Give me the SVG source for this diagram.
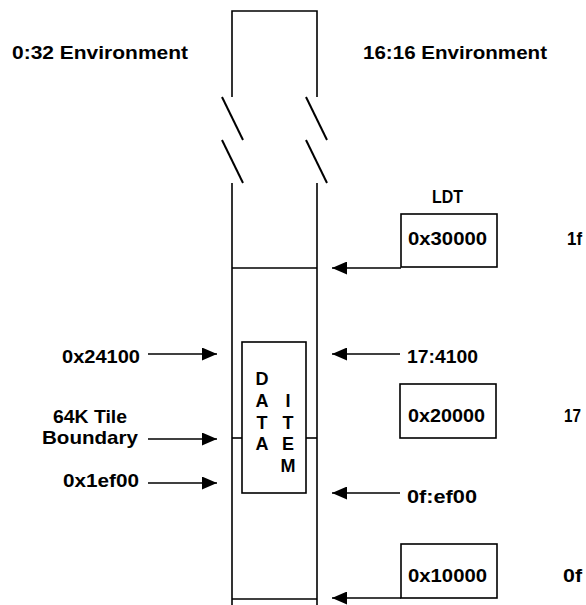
<svg xmlns="http://www.w3.org/2000/svg" width="586" height="605" viewBox="0 0 586 605">
<defs>
<style>
.t{font-family:"Liberation Sans",Arial,sans-serif;font-size:19px;font-weight:bold;fill:#000}
.d{font-family:"Liberation Sans",Arial,sans-serif;font-size:18px;font-weight:bold;fill:#000;text-anchor:middle}
.ln{stroke:#000;stroke-width:1.6;fill:none}
.sl{stroke:#000;stroke-width:2;fill:none}
.bx{stroke:#000;stroke-width:1.6;fill:#fff}
.ar{stroke:#000;stroke-width:1.6;fill:none;marker-end:url(#ah)}
</style>
<marker id="ah" markerUnits="userSpaceOnUse" markerWidth="16" markerHeight="13" refX="15" refY="6.5" orient="auto">
<path d="M0,0 L15,6.5 L0,13 z" fill="#000"/>
</marker>
</defs>
<rect width="586" height="605" fill="#fff"/>

<g id="titles">
<text class="t" x="12" y="59" textLength="176" lengthAdjust="spacingAndGlyphs">0:32  Environment</text>
<text class="t" x="363" y="59" textLength="184" lengthAdjust="spacingAndGlyphs">16:16  Environment</text>
</g>

<g id="column">
<polyline class="ln" points="232,97 232,11 317,11 317,97"/>
<line class="sl" x1="222" y1="97" x2="243" y2="140"/>
<line class="sl" x1="222" y1="140" x2="243" y2="183"/>
<line class="sl" x1="306" y1="97" x2="327" y2="140"/>
<line class="sl" x1="306" y1="140" x2="327" y2="183"/>
<line class="ln" x1="232" y1="183" x2="232" y2="605"/>
<line class="ln" x1="317" y1="183" x2="317" y2="605"/>
<line class="ln" x1="232" y1="268" x2="317" y2="268"/>
<line class="ln" x1="232" y1="599" x2="317" y2="599"/>
<line class="ln" x1="232" y1="438" x2="242" y2="438"/>
<line class="ln" x1="306" y1="438" x2="317" y2="438"/>
</g>

<g id="data-item">
<rect class="bx" x="242" y="342" width="64" height="151"/>
<text class="d" x="262" y="385">D</text>
<text class="d" x="262" y="407">A</text>
<text class="d" x="262" y="429">T</text>
<text class="d" x="262" y="450">A</text>
<text class="d" x="288" y="407">I</text>
<text class="d" x="288" y="429">T</text>
<text class="d" x="288" y="450">E</text>
<text class="d" x="288" y="472">M</text>
</g>

<g id="ldt">
<text class="t" x="432" y="203" textLength="31" lengthAdjust="spacingAndGlyphs">LDT</text>
<rect class="bx" x="401" y="214" width="96" height="53"/>
<text class="t" x="408" y="245" textLength="79" lengthAdjust="spacingAndGlyphs">0x30000</text>
<text class="t" x="567" y="245" textLength="15" lengthAdjust="spacingAndGlyphs">1f</text>
</g>

<g id="seg-20000">
<rect class="bx" x="400" y="384" width="96" height="54"/>
<text class="t" x="408" y="422" textLength="77" lengthAdjust="spacingAndGlyphs">0x20000</text>
<text class="t" x="564" y="422" textLength="17" lengthAdjust="spacingAndGlyphs">17</text>
</g>

<g id="seg-10000">
<rect class="bx" x="401" y="544" width="96" height="54"/>
<text class="t" x="408" y="582" textLength="79" lengthAdjust="spacingAndGlyphs">0x10000</text>
<text class="t" x="563" y="582" textLength="19" lengthAdjust="spacingAndGlyphs">0f</text>
</g>

<g id="left-labels">
<text class="t" x="62" y="363" textLength="78" lengthAdjust="spacingAndGlyphs">0x24100</text>
<text class="t" x="53" y="423" textLength="74" lengthAdjust="spacingAndGlyphs">64K Tile</text>
<text class="t" x="42" y="444" textLength="96" lengthAdjust="spacingAndGlyphs">Boundary</text>
<text class="t" x="63" y="487" textLength="76" lengthAdjust="spacingAndGlyphs">0x1ef00</text>
</g>

<g id="right-labels">
<text class="t" x="407" y="363" textLength="71" lengthAdjust="spacingAndGlyphs">17:4100</text>
<text class="t" x="407" y="503" textLength="70" lengthAdjust="spacingAndGlyphs">0f:ef00</text>
</g>

<g id="connectors">
<line class="ar" x1="148" y1="354" x2="217" y2="354"/>
<line class="ar" x1="148" y1="439" x2="217" y2="439"/>
<line class="ar" x1="148" y1="483" x2="217" y2="483"/>
<line class="ar" x1="401" y1="268" x2="332" y2="268"/>
<line class="ar" x1="400" y1="354" x2="332" y2="354"/>
<line class="ar" x1="400" y1="493" x2="332" y2="493"/>
<line class="ar" x1="401" y1="598" x2="332" y2="598"/>
</g>
</svg>
